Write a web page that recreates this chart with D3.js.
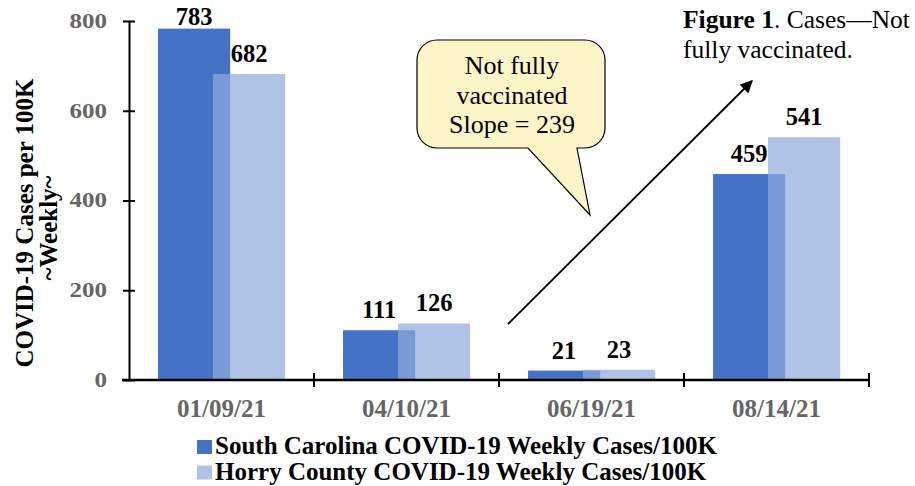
<!DOCTYPE html>
<html>
<head>
<meta charset="utf-8">
<script src="https://cdn.jsdelivr.net/npm/d3@7"></script>
<style>
  body { margin: 0; background: #fff; }
  text { font-family: "Liberation Serif", "Times New Roman", serif; }
</style>
</head>
<body>
<script>
var w = 915;
var h = 486;

// data
var dates = ["01/09/21", "04/10/21", "06/19/21", "08/14/21"];
var southCarolina = [783, 111, 21, 459];
var horryCounty = [682, 126, 23, 541];
var seriesNames = ["South Carolina COVID-19 Weekly Cases/100K", "Horry County COVID-19 Weekly Cases/100K"];
var yTicks = [0, 200, 400, 600, 800];
var calloutLines = ["Not fully", "vaccinated", "Slope = 239"];

var darkBlue = "#4472c4";
var lightFill = "rgb(144,170,220)";
var lightOpacity = 0.71;

var svg = d3.select("body").append("svg").attr("width", w).attr("height", h);

var x = d3.scaleBand().domain(dates).range([129, 869]).paddingInner(0).paddingOuter(0);
var y = d3.scaleLinear().domain([0, 800]).range([380, 21]);
var bw = x.bandwidth();

// bars: dark first, light semi-transparent on top, overlapping
function darkX(d) { return x(d) + bw * 0.157; }
function lightX(d) { return x(d) + bw * 0.454; }
var barW = bw * 0.39;

svg.selectAll("rect.sc")
    .data(dates)
    .enter()
    .append("rect")
    .attr("class", "sc")
    .attr("x", function(d) { return darkX(d); })
    .attr("y", function(d, i) { return y(southCarolina[i]); })
    .attr("width", barW)
    .attr("height", function(d, i) { return y(0) - y(southCarolina[i]); })
    .style("fill", darkBlue);

svg.selectAll("rect.hc")
    .data(dates)
    .enter()
    .append("rect")
    .attr("class", "hc")
    .attr("x", function(d) { return lightX(d); })
    .attr("y", function(d, i) { return y(horryCounty[i]); })
    .attr("width", barW)
    .attr("height", function(d, i) { return y(0) - y(horryCounty[i]); })
    .style("fill", lightFill)
    .style("opacity", lightOpacity);

// value labels
function labelY(v) { return Math.max(y(v) - 12, 25); }
svg.selectAll("text.scv")
    .data(dates)
    .enter()
    .append("text")
    .attr("x", function(d) { return darkX(d) + barW / 2; })
    .attr("y", function(d, i) { return labelY(southCarolina[i]); })
    .attr("text-anchor", "middle")
    .style("font-size", "24.5px")
    .style("font-weight", "bold")
    .text(function(d, i) { return southCarolina[i]; });

svg.selectAll("text.hcv")
    .data(dates)
    .enter()
    .append("text")
    .attr("x", function(d) { return lightX(d) + barW / 2; })
    .attr("y", function(d, i) { return labelY(horryCounty[i]); })
    .attr("text-anchor", "middle")
    .style("font-size", "24.5px")
    .style("font-weight", "bold")
    .text(function(d, i) { return horryCounty[i]; });

// y axis (tick labels are a wide face in the original: stretch them a little)
var yAxis = svg.append("g").attr("transform", "translate(129,0)")
    .call(d3.axisLeft(y).tickValues(yTicks).tickSize(0).tickPadding(22));
yAxis.select(".domain").attr("stroke", "#000").attr("stroke-width", 2);
yAxis.selectAll(".tick line").attr("x1", -6).attr("x2", 6).attr("stroke", "#000").attr("stroke-width", 2);
yAxis.selectAll(".tick text")
    .attr("x", -22 / 1.25)
    .attr("transform", "scale(1.25,1)")
    .style("font-family", "Liberation Serif")
    .style("font-size", "20px")
    .style("font-weight", "bold")
    .style("fill", "#666");

// x axis with ticks at band boundaries
var xAxisG = svg.append("g").attr("transform", "translate(0,380)");
xAxisG.append("line").attr("x1", 122).attr("x2", 869).attr("stroke", "#000").attr("stroke-width", 2.5);
xAxisG.selectAll("line.tk")
    .data(dates)
    .enter()
    .append("line")
    .attr("class", "tk")
    .attr("x1", function(d) { return x(d) + bw; })
    .attr("x2", function(d) { return x(d) + bw; })
    .attr("y1", -7)
    .attr("y2", 7)
    .attr("stroke", "#000")
    .attr("stroke-width", 2);
xAxisG.selectAll("text")
    .data(dates)
    .enter()
    .append("text")
    .attr("x", function(d) { return x(d) + bw / 2; })
    .attr("y", 37)
    .attr("text-anchor", "middle")
    .style("font-size", "25px")
    .style("font-weight", "bold")
    .style("fill", "#666")
    .text(function(d) { return d; });

// y axis title
var yt = svg.append("text")
    .attr("transform", "translate(33,223) rotate(-90)")
    .attr("text-anchor", "middle")
    .style("font-size", "25px")
    .style("font-weight", "bold");
yt.append("tspan").attr("x", 0).attr("y", 0).text("COVID-19 Cases per 100K");
yt.append("tspan").attr("x", -5).attr("y", 24).text("~Weekly~");

// legend
var legend = svg.selectAll("g.leg")
    .data(seriesNames)
    .enter()
    .append("g")
    .attr("class", "leg")
    .attr("transform", function(d, i) { return "translate(197," + (440 + i * 25.5) + ")"; });
legend.append("rect")
    .attr("width", 15)
    .attr("height", 14)
    .style("fill", function(d, i) { return i === 0 ? darkBlue : lightFill; })
    .style("opacity", function(d, i) { return i === 0 ? 1 : lightOpacity; });
legend.append("text")
    .attr("x", 18)
    .attr("y", 14)
    .style("font-size", "25px")
    .style("font-weight", "bold")
    .text(function(d) { return d; });

// trend arrow
svg.append("defs").append("marker")
    .attr("id", "arrow")
    .attr("viewBox", "0 0 10 10")
    .attr("refX", 9)
    .attr("refY", 5)
    .attr("markerWidth", 7)
    .attr("markerHeight", 7)
    .attr("orient", "auto")
    .append("path")
    .attr("d", "M0,0 L10,5 L0,10 z")
    .attr("fill", "#000");
svg.append("line")
    .attr("x1", 508).attr("y1", 324)
    .attr("x2", 752).attr("y2", 81)
    .attr("stroke", "#000")
    .attr("stroke-width", 1.8)
    .attr("marker-end", "url(#arrow)");

// callout bubble
var bx0 = 417, by0 = 40, bx1 = 605, by1 = 148, r = 20;
var p = d3.path();
p.moveTo(bx0 + r, by0);
p.lineTo(bx1 - r, by0);
p.arcTo(bx1, by0, bx1, by0 + r, r);
p.lineTo(bx1, by1 - r);
p.arcTo(bx1, by1, bx1 - r, by1, r);
p.lineTo(577, by1);
p.lineTo(590, 215);
p.lineTo(528, by1);
p.lineTo(bx0 + r, by1);
p.arcTo(bx0, by1, bx0, by1 - r, r);
p.lineTo(bx0, by0 + r);
p.arcTo(bx0, by0, bx0 + r, by0, r);
p.closePath();
svg.append("path")
    .attr("d", p.toString())
    .attr("fill", "#fcf5c7")
    .attr("stroke", "#000")
    .attr("stroke-width", 1.2);
svg.selectAll("text.callout")
    .data(calloutLines)
    .enter()
    .append("text")
    .attr("class", "callout")
    .attr("x", 512)
    .attr("y", function(d, i) { return 74 + i * 29.5; })
    .attr("text-anchor", "middle")
    .style("font-size", "26px")
    .text(function(d) { return d; });

// figure caption
var cap = svg.append("text").attr("x", 683).attr("y", 28).style("font-size", "25.5px");
cap.append("tspan").style("font-weight", "bold").text("Figure 1");
cap.append("tspan").text(". Cases\u2014Not");
svg.append("text").attr("x", 683).attr("y", 58).style("font-size", "25.5px").text("fully vaccinated.");
</script>
</body>
</html>
